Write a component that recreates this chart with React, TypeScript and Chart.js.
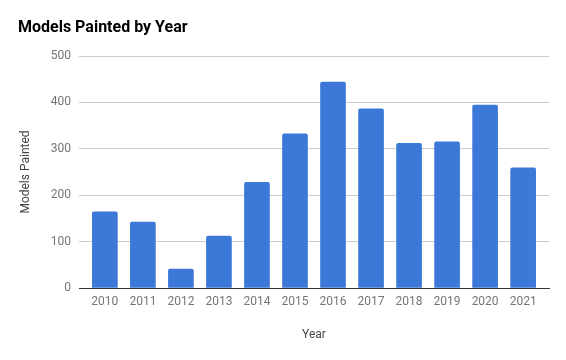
import React, { useEffect, useRef } from "react";
import { Chart, registerables } from "chart.js";

Chart.register(...registerables);

const years: number[] = [2010, 2011, 2012, 2013, 2014, 2015, 2016, 2017, 2018, 2019, 2020, 2021];
const modelsPainted: number[] = [164, 142, 41, 112, 228, 332, 444, 386, 312, 315, 394, 259];
const yTicks: number[] = [0, 100, 200, 300, 400, 500];

const FONT = "Roboto";

export default function App() {
  const ref = useRef<HTMLCanvasElement | null>(null);

  useEffect(() => {
    if (!ref.current) return;
    const chart = new Chart(ref.current, {
      type: "bar",
      data: {
        labels: years,
        datasets: [
          {
            label: "Models Painted",
            data: modelsPainted,
            backgroundColor: "#3c78d8",
            borderRadius: { topLeft: 2, topRight: 2, bottomLeft: 0, bottomRight: 0 },
            borderSkipped: false,
            barThickness: 25,
          },
        ],
      },
      options: {
        responsive: false,
        animation: false,
        layout: { padding: { left: 18, right: 17, top: 0, bottom: 10 } },
        plugins: {
          legend: { display: false },
          tooltip: { enabled: false },
          title: {
            display: true,
            text: "Models Painted by Year",
            align: "start",
            color: "#000",
            font: { family: FONT, size: 16, weight: "bold" },
            padding: { top: 18, bottom: 18.8 },
          },
        },
        scales: {
          x: {
            type: "linear",
            offset: false,
            min: years[0] - 0.68,
            max: years[years.length - 1] + 0.68,
            afterBuildTicks: (scale: any) => {
              scale.ticks = years.map((v) => ({ value: v }));
            },
            afterFit: (scale: any) => {
              scale.height = 62;
            },
            grid: { display: false, drawTicks: false },
            border: { display: true, color: "#333", width: 1 },
            ticks: {
              padding: 7,
              color: "#757575",
              font: { family: FONT, size: 12 },
              maxRotation: 0,
              autoSkip: false,
              callback: (v: any) => String(v),
            },
            title: {
              display: true,
              text: "Year",
              color: "#444",
              font: { family: FONT, size: 12 },
              padding: { top: 4, bottom: 8 },
            },
          },
          y: {
            min: 0,
            max: 500,
            afterBuildTicks: (scale: any) => {
              scale.ticks = yTicks.map((v) => ({ value: v }));
            },
            afterFit: (scale: any) => {
              scale.width = 61;
            },
            grid: {
              drawTicks: false,
              color: (ctx: any) => (ctx.tick && ctx.tick.value === 0 ? "#333" : "#ccc"),
            },
            border: { display: false },
            ticks: {
              padding: 8,
              color: "#757575",
              font: { family: FONT, size: 12 },
            },
            title: {
              display: true,
              text: "Models Painted",
              color: "#444",
              font: { family: FONT, size: 12 },
              padding: { top: 1, bottom: 1 },
            },
          },
        },
      },
    });
    return () => chart.destroy();
  }, []);

  return (
    <div style={{ position: "fixed", left: 0, top: 0, width: 566, height: 360, background: "#fff" }}>
      <canvas ref={ref} width={566} height={360} />
    </div>
  );
}
